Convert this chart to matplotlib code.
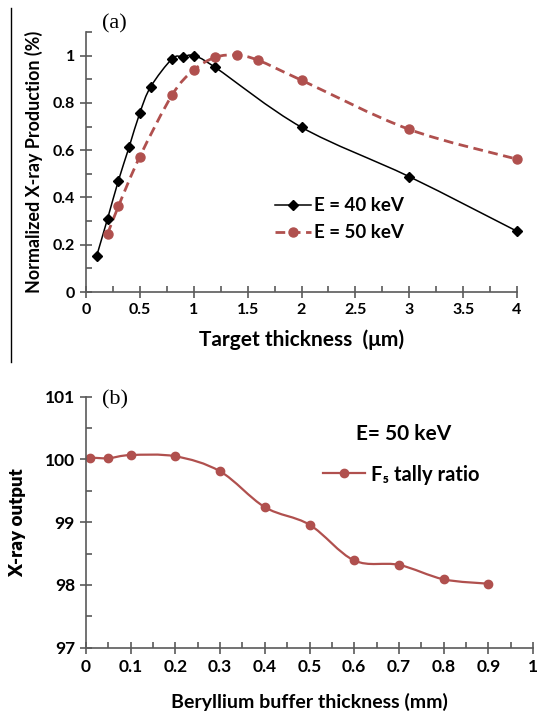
import matplotlib
matplotlib.use("Agg")
import matplotlib.pyplot as plt
from matplotlib.path import Path
from matplotlib.patches import PathPatch
from matplotlib.lines import Line2D
from matplotlib.ticker import MultipleLocator

# panel (a): normalized X-ray production vs target thickness
x40 = [0.1, 0.2, 0.3, 0.4, 0.5, 0.6, 0.8, 0.9, 1.0, 1.2, 2.0, 3.0, 4.0]
y40 = [0.154, 0.31, 0.47, 0.613, 0.758, 0.868, 0.987, 0.995, 1.0, 0.95, 0.697, 0.488, 0.257]
x50 = [0.2, 0.3, 0.5, 0.8, 1.0, 1.2, 1.4, 1.6, 2.0, 3.0, 4.0]
y50 = [0.245, 0.362, 0.573, 0.834, 0.939, 0.993, 1.002, 0.98, 0.896, 0.688, 0.562]
xticks_a = [0, 0.5, 1, 1.5, 2, 2.5, 3, 3.5, 4]
xlabels_a = ["0", "0.5", "1", "1.5", "2", "2.5", "3", "3.5", "4"]
yticks_a = [0, 0.2, 0.4, 0.6, 0.8, 1.0]
ylabels_a = ["0", "0.2", "0.4", "0.6", "0.8", "1"]

# panel (b): X-ray output vs beryllium buffer thickness
xbe = [0.01, 0.05, 0.1, 0.2, 0.3, 0.4, 0.5, 0.6, 0.7, 0.8, 0.9]
ybe = [100.03, 100.02, 100.07, 100.05, 99.81, 99.24, 98.96, 98.39, 98.32, 98.09, 98.02]
xticks_b = [0, 0.1, 0.2, 0.3, 0.4, 0.5, 0.6, 0.7, 0.8, 0.9, 1.0]
xlabels_b = ["0", "0.1", "0.2", "0.3", "0.4", "0.5", "0.6", "0.7", "0.8", "0.9", "1"]
yticks_b = [97, 98, 99, 100, 101]
ylabels_b = ["97", "98", "99", "100", "101"]

RED = "#b0504e"
AXC = "#5a5a5a"
FONT = ["Lato", "DejaVu Sans"]
plt.rcParams["font.family"] = FONT
DASH = (0, (3.5, 2))


def smooth_path(xs, ys):
    # excel-like smoothed line: catmull-rom segments as cubic beziers
    pts = list(zip(xs, ys))
    verts = [pts[0]]
    codes = [Path.MOVETO]
    n = len(pts)
    for i in range(n - 1):
        p0 = pts[i - 1] if i > 0 else pts[i]
        p1 = pts[i]
        p2 = pts[i + 1]
        p3 = pts[i + 2] if i + 2 < n else pts[i + 1]
        c1 = (p1[0] + (p2[0] - p0[0]) / 6, p1[1] + (p2[1] - p0[1]) / 6)
        c2 = (p2[0] - (p3[0] - p1[0]) / 6, p2[1] - (p3[1] - p1[1]) / 6)
        verts += [c1, c2, p2]
        codes += [Path.CURVE4] * 3
    return Path(verts, codes)


def style_axes(ax, size):
    for s in ["top", "right"]:
        ax.spines[s].set_visible(False)
    for s in ["left", "bottom"]:
        ax.spines[s].set_color(AXC)
        ax.spines[s].set_linewidth(1.2)
    ax.tick_params(which="major", direction="inout", length=8, width=1.2,
                   color=AXC, labelsize=size, pad=4)
    ax.tick_params(which="minor", direction="in", length=4, width=1.2, color=AXC)
    for lab in ax.get_xticklabels() + ax.get_yticklabels():
        lab.set_fontweight("bold")


fig = plt.figure(figsize=(5.41, 7.12), dpi=100)

# ---- (a)
ax1 = fig.add_axes([86 / 541, 1 - 292 / 712, 431 / 541, 260 / 712])
ax1.add_patch(PathPatch(smooth_path(x40, y40), fill=False, color="black", lw=1.1))
ax1.plot(x40, y40, ls="none", marker="D", ms=5, color="black", clip_on=False)
ax1.add_patch(PathPatch(smooth_path(x50, y50), fill=False, color=RED, lw=2,
                        linestyle=DASH))
ax1.plot(x50, y50, ls="none", marker="o", ms=6.5, color=RED, clip_on=False)
ax1.set_xlim(0, 4)
ax1.set_ylim(0, 1.1)
ax1.set_xticks(xticks_a, xlabels_a)
ax1.set_yticks(yticks_a, ylabels_a)
ax1.xaxis.set_minor_locator(MultipleLocator(0.25))
ax1.yaxis.set_minor_locator(MultipleLocator(0.1))
style_axes(ax1, 11.5)
ax1.set_xlabel("Target thickness  (\u03bcm)", fontsize=15, fontweight="bold", labelpad=9)
ax1.set_ylabel("Normalized X-ray Production (%)", fontsize=12.9, fontweight="bold", labelpad=7)
h1 = [Line2D([], [], color="black", lw=1.1, marker="D", ms=5),
      Line2D([], [], color=RED, lw=2, ls=DASH, marker="o", ms=6.5)]
leg1 = ax1.legend(h1, ["E = 40 keV", "E = 50 keV"], loc="upper left",
                  bbox_to_anchor=(0.4, 0.43), frameon=False, fontsize=13.5,
                  handlelength=1.9, handletextpad=0.15, labelspacing=0.55)
for t in leg1.get_texts():
    t.set_fontweight("bold")
fig.text(102 / 541, 1 - 24 / 712, "(a)", family="Liberation Serif", fontsize=16,
         va="center", ha="left")

# ---- (b)
ax2 = fig.add_axes([86 / 541, 1 - 647.7 / 712, 447 / 541, 251 / 712])
ax2.add_patch(PathPatch(smooth_path(xbe, ybe), fill=False, color=RED, lw=1.6))
ax2.plot(xbe, ybe, ls="none", marker="o", ms=6, color=RED, clip_on=False)
ax2.set_xlim(0, 1)
ax2.set_ylim(97, 101)
ax2.set_xticks(xticks_b, xlabels_b)
ax2.set_yticks(yticks_b, ylabels_b)
ax2.xaxis.set_minor_locator(MultipleLocator(0.05))
ax2.yaxis.set_minor_locator(MultipleLocator(0.5))
style_axes(ax2, 12.5)
ax2.set_xlabel("Beryllium buffer thickness (mm)", fontsize=14, fontweight="bold", labelpad=13)
ax2.set_ylabel("X-ray output", fontsize=13.5, fontweight="heavy", labelpad=13)
ax2.text(0.605, 0.85, "E= 50 keV", transform=ax2.transAxes, fontsize=15,
         fontweight="bold", va="center")
h2 = [Line2D([], [], color=RED, lw=1.6, marker="o", ms=6)]
leg2 = ax2.legend(h2, ["F\u2085 tally ratio"], loc="center left",
                  bbox_to_anchor=(0.49, 0.69), frameon=False, fontsize=14.5,
                  handlelength=2.1, handletextpad=0.3)
for t in leg2.get_texts():
    t.set_fontweight("bold")
fig.text(102 / 541, 1 - 400 / 712, "(b)", family="Liberation Serif", fontsize=16,
         va="center", ha="left")

# separator line on the left
fig.add_artist(Line2D([11 / 541, 11 / 541], [1 - 362 / 712, 1 - 8 / 712],
                      transform=fig.transFigure, color="black", lw=1))

fig.savefig("out.png", dpi=100)
